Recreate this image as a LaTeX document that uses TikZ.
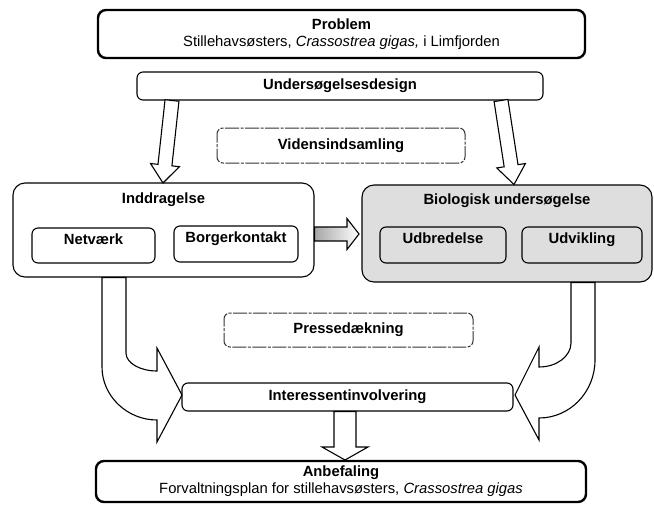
\documentclass[tikz,border=0pt]{standalone}
\usepackage{fontspec}
\setmainfont{Liberation Sans}
\usetikzlibrary{calc}
% block arrow: #1 style, #2 start, #3 tip, #4 half shaft, #5 half head, #6 head length
\newcommand\blkarrow[6]{%
  \draw[#1] ($(#2)!#4!90:(#3)$) -- ($(#3)!#6!(#2)!#4!-90:(#2)$)
    -- ($(#3)!#6!(#2)!#5!-90:(#2)$) -- (#3)
    -- ($(#3)!#6!(#2)!#5!90:(#2)$) -- ($(#3)!#6!(#2)!#4!90:(#2)$)
    -- ($(#2)!#4!-90:(#3)$) -- cycle;}
\begin{document}
\begin{tikzpicture}[x=1pt,y=-1pt,
  every node/.style={font=\fontsize{14.8}{17}\selectfont\bfseries},
  plainbox/.style={draw, line width=1.1pt, rounded corners=6pt, inner sep=0pt, align=center},
  thickbox/.style={plainbox, line width=2.4pt, rounded corners=8pt},
  dbox/.style={plainbox, draw=black!80, line width=1pt, dash pattern=on 14pt off 1.5pt on 3pt off 1.5pt},
  blk/.style={draw, line width=1.1pt, fill=white, line join=miter},
  bgray/.style={fill=black!13},
]
\useasboundingbox (0,0) rectangle (654,504);

% boxes
\node[thickbox, minimum width=487pt, minimum height=48pt] (problem) at (341.5,34)
  {Problem\\\mdseries Stillehavsøsters, \textit{Crassostrea gigas,} i Limfjorden};
\node[plainbox, minimum width=406pt, minimum height=28pt] (design) at (340,86) {Undersøgelsesdesign};
\node[dbox, minimum width=248pt, minimum height=35pt] (videns) at (341,145.5) {Vidensindsamling};

\node[plainbox, rounded corners=12pt, minimum width=301pt, text height=20pt, text depth=74pt] (indd) at (163.5,230) {Inddragelse};
\node[plainbox, minimum width=123pt, text height=16pt, text depth=19pt] (netv) at (93.5,245.5) {Netværk};
\node[plainbox, minimum width=124pt, text height=16pt, text depth=20pt] (borger) at (236,244) {Borgerkontakt};

\node[plainbox, bgray, rounded corners=12pt, minimum width=290pt, text height=19pt, text depth=78pt] (bio) at (507,233.5) {Biologisk undersøgelse};
\node[plainbox, bgray, minimum width=126pt, text height=16pt, text depth=20pt] (udbr) at (443,245) {Udbredelse};
\node[plainbox, bgray, minimum width=120pt, text height=16pt, text depth=20pt] (udvi) at (582,245) {Udvikling};

\node[dbox, minimum width=249pt, minimum height=34pt] (presse) at (348.5,330) {Pressedækning};
\node[plainbox, minimum width=331pt, minimum height=28pt] (inter) at (347.5,397) {Interessentinvolvering};
\node[thickbox, minimum width=490pt, minimum height=41pt] (anbef) at (341,481.5)
  {Anbefaling\\\mdseries Forvaltningsplan for stillehavsøsters, \textit{Crassostrea gigas}};

% arrow anchor points
\coordinate (dl) at (172,100.5);
\coordinate (il) at (163,183);
\coordinate (dr) at (501,100.5);
\coordinate (br) at (514,184.5);
\coordinate (hs) at (314.5,234);
\coordinate (ht) at (359,234);
\coordinate (is) at (345,411.5);
\coordinate (at) at (345,460);
\coordinate (lt) at (182,395);
\coordinate (rt) at (515,395);

% straight block arrows
\blkarrow{blk}{dl}{il}{7pt}{14.5pt}{18pt}
\blkarrow{blk}{dr}{br}{7pt}{14.5pt}{19pt}
\blkarrow{blk, left color=black!35, right color=white}{hs}{ht}{7pt}{15.5pt}{12pt}
\blkarrow{blk}{is}{at}{11pt}{23pt}{13pt}

% curved block arrows
\draw[blk] (102,277.5) -- (102,367) .. controls (102,396) and (127,420) .. (157,420)
  -- (157,442) -- (lt) -- (157,348) -- (157,371)
  .. controls (140,371) and (126,363) .. (126,353) -- (126,277.5) -- cycle;
\draw[blk] (595,282.5) -- (595,360) .. controls (595,392) and (570,418) .. (539,418)
  -- (539,440) -- (rt) -- (539,347) -- (539,367)
  .. controls (557,367) and (571,356) .. (571,343) -- (571,282.5) -- cycle;
\end{tikzpicture}
\end{document}
